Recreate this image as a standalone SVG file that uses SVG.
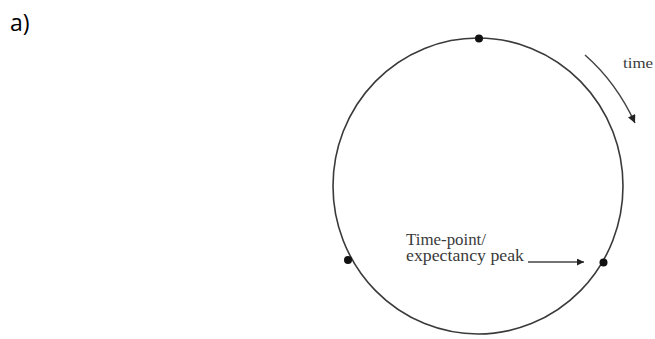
<svg xmlns="http://www.w3.org/2000/svg" width="655" height="339" viewBox="0 0 655 339">
<defs>
<style>
.ring{fill:none;stroke:#3a3a3a;stroke-width:1.6}
.dot{fill:#111}
.lbl{font-family:"Liberation Serif","Times New Roman",serif;fill:#3a3a3a}
.conn{fill:none;stroke:#444;stroke-width:1.5}
</style>
<marker id="ah" viewBox="0 0 10 10" refX="10" refY="5" markerWidth="11" markerHeight="8" markerUnits="userSpaceOnUse" orient="auto">
<path d="M0,0 L10,5 L0,10 z" fill="#222"/>
</marker>
<marker id="ah2" viewBox="0 0 10 10" refX="10" refY="5" markerWidth="12" markerHeight="7" markerUnits="userSpaceOnUse" orient="auto">
<path d="M0,0 L10,5 L0,10 z" fill="#222"/>
</marker>
</defs>
<rect width="655" height="339" fill="#fff"/>
<text x="10" y="31" font-family="'Open Sans',sans-serif" font-size="23" fill="#000">a)</text>
<g id="cycle">
<ellipse class="ring" cx="478" cy="186" rx="145" ry="148"/>
</g>
<g id="point-top"><circle class="dot" cx="479" cy="38.5" r="4"/></g>
<g id="point-left"><circle class="dot" cx="348" cy="260" r="4"/></g>
<g id="point-right"><circle class="dot" cx="603.5" cy="262.5" r="4"/></g>
<g id="label-time"><text class="lbl" x="623" y="68" font-size="15" textLength="30" lengthAdjust="spacingAndGlyphs">time</text></g>
<g id="label-peak">
<text class="lbl" x="406" y="245" font-size="16" textLength="80" lengthAdjust="spacingAndGlyphs">Time-point/</text>
<text class="lbl" x="406" y="261" font-size="16" textLength="118" lengthAdjust="spacingAndGlyphs">expectancy peak</text>
</g>
<g id="connectors">
<path class="conn" d="M585,55 Q616,82 635,123" marker-end="url(#ah)"/>
<path class="conn" d="M528,262 L584,262" marker-end="url(#ah2)"/>
</g>
</svg>
